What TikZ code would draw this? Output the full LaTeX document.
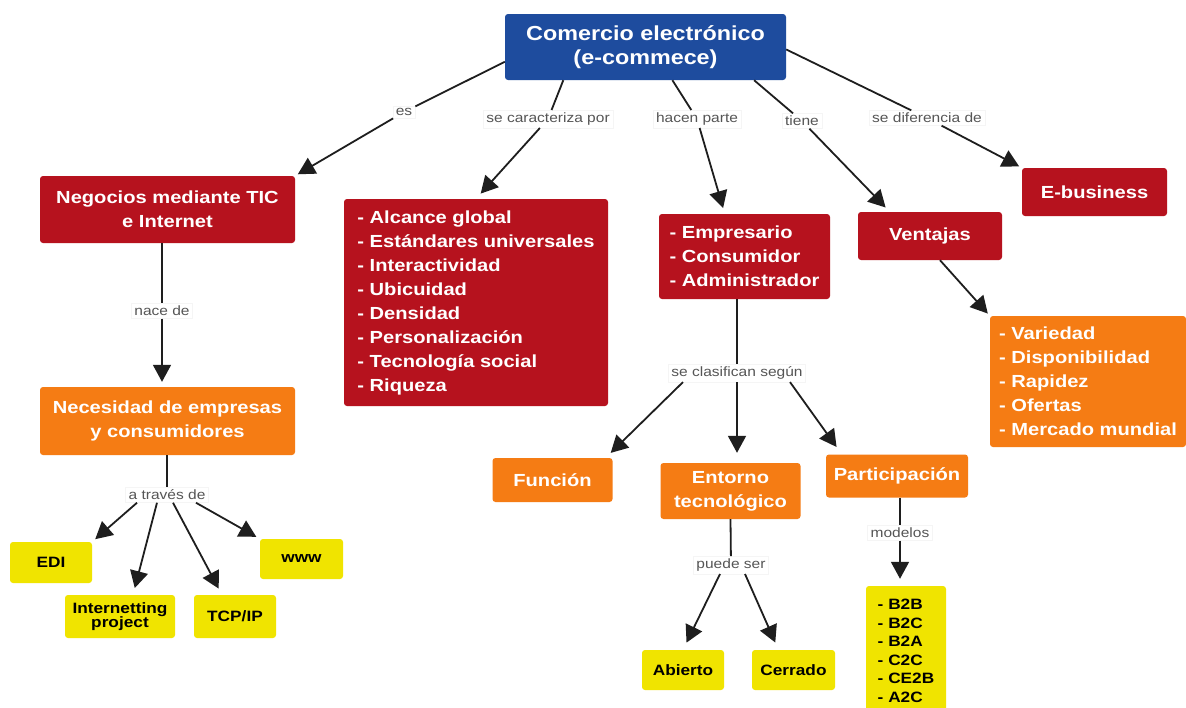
\documentclass[tikz,border=0pt]{standalone}
\usepackage{fontspec}
\setmainfont[FakeStretch=1.15]{Liberation Sans}
\usetikzlibrary{arrows.meta,calc}
\definecolor{cblue}{RGB}{30,76,158}
\definecolor{cred}{RGB}{182,18,30}
\definecolor{corange}{RGB}{245,124,20}
\definecolor{cyellow}{RGB}{240,228,0}
\definecolor{cline}{RGB}{30,30,30}
\definecolor{clabel}{RGB}{85,85,85}
\begin{document}
\begin{tikzpicture}[x=1pt,y=-1pt,
 box/.style={rounded corners=3pt, inner sep=0pt, text=white, align=center,
   font=\bfseries\fontsize{17.5}{24}\selectfont},
 rootbox/.style={box, fill=cblue, font=\bfseries\fontsize{20.3}{24}\selectfont},
 redbox/.style={box, fill=cred},
 orbox/.style={box, fill=corange},
 yelbox/.style={box, fill=cyellow, text=black, font=\bfseries\fontsize{15}{14.5}\selectfont},
 lab/.style={fill=white, draw=black!4, text=clabel, font=\fontsize{13.5}{15}\selectfont, inner xsep=3pt, inner ysep=2.5pt},
 conn/.style={draw=cline, line width=1.8pt},
 arr/.style={conn, -{Triangle[length=17pt,width=18pt]}},
]
\fill[white, use as bounding box] (0,0) rectangle (1186,707);

% boxes
\node[rootbox, minimum width=281pt, minimum height=66pt] (root) at (645.5,47) {Comercio electrónico\\(e-commece)};
\node[redbox, minimum width=255pt, minimum height=67pt] (neg) at (167.5,209.5) {Negocios mediante TIC\\e Internet};
\node[redbox, align=left, minimum width=264pt, minimum height=207pt] (car) at (476,302.5) {- Alcance global\\- Estándares universales\\- Interactividad\\- Ubicuidad\\- Densidad\\- Personalización\\- Tecnología social\\- Riqueza};
\node[redbox, align=left, minimum width=171pt, minimum height=85pt] (emp) at (744.5,256.5) {- Empresario\\- Consumidor\\- Administrador};
\node[redbox, minimum width=144pt, minimum height=48pt] (ven) at (930,236) {Ventajas};
\node[redbox, minimum width=145pt, minimum height=48pt] (ebiz) at (1094.5,192) {E-business};
\node[orbox, align=left, minimum width=196pt, minimum height=131pt] (vlist) at (1088,381.5) {- Variedad\\- Disponibilidad\\- Rapidez\\- Ofertas\\- Mercado mundial};
\node[orbox, minimum width=255pt, minimum height=68pt] (nec) at (167.5,421) {Necesidad de empresas\\y consumidores};
\node[orbox, minimum width=120pt, minimum height=44pt] (fun) at (552.5,480) {Función};
\node[orbox, minimum width=140pt, minimum height=56pt] (ent) at (730.5,491) {Entorno\\tecnológico};
\node[orbox, minimum width=142pt, minimum height=43pt] (part) at (897,476) {Participación};
\node[yelbox, minimum width=82pt, minimum height=41pt] (edi) at (51,562.5) {EDI};
\node[yelbox, minimum width=110pt, minimum height=43pt] (inet) at (120,616.5) {Internetting\\project};
\node[yelbox, minimum width=82pt, minimum height=43pt] (tcp) at (235,616.5) {TCP/IP};
\node[yelbox, minimum width=83pt, minimum height=40pt] (www) at (301.5,559) {www};
\node[yelbox, minimum width=82pt, minimum height=40pt] (abi) at (683,670) {Abierto};
\node[yelbox, minimum width=83pt, minimum height=40pt] (cer) at (793.5,670) {Cerrado};
\node[yelbox, align=left, minimum width=80pt, minimum height=130pt, font=\bfseries\fontsize{15}{18.5}\selectfont] (b2b) at (906,651) {- B2B\\- B2C\\- B2A\\- C2C\\- CE2B\\- A2C};

% labels
\node[lab] (les) at (404,112) {es};
\node[lab] (lcar) at (548,119) {se caracteriza por};
\node[lab] (lhac) at (697,119) {hacen parte};
\node[lab] (ltie) at (802,121) {tiene};
\node[lab] (ldif) at (927,118) {se diferencia de};
\node[lab] (lnac) at (162,311) {nace de};
\node[lab] (lat) at (167,495) {a través de};
\node[lab] (lcls) at (737,373) {se clasifican según};
\node[lab] (lpue) at (731,565) {puede ser};
\node[lab] (lmod) at (900,533) {modelos};

% connectors
\draw[conn] (root.186) -- (les);
\draw[arr, shorten >=3pt] (les) -- (neg.north east);
\draw[conn] (root.202) -- (lcar);
\draw[arr, shorten >=7pt] (lcar) -- (car.north);
\draw[conn] (root.309) -- (lhac);
\draw[arr, shorten >=6pt] (lhac) -- ($(emp.north west)+(66,0)$);
\draw[conn] (root.343) -- (ltie);
\draw[arr, shorten >=6pt] (ltie) -- ($(ven.north west)+(32,0)$);
\draw[conn] (root.359) -- (ldif);
\draw[arr, shorten >=3pt] (ldif) -- (ebiz.north west);
\draw[arr, shorten >=3pt] ($(ven.south)+(10,0)$) -- (vlist.north west);

\draw[conn] (neg.south -| lnac) -- (lnac);
\draw[arr, shorten >=5pt] (lnac) -- (nec.north -| lnac);

\draw[conn] (nec.south -| lat) -- (lat);
\draw[arr, shorten >=4pt] ($(lat.south)+(-30,0)$) -- (edi.north east);
\draw[arr, shorten >=7pt] ($(lat.south)+(-10,0)$) -- ($(inet.north)+(13,0)$);
\draw[arr, shorten >=7pt] ($(lat.south)+(6,0)$) -- ($(tcp.north)+(-13,0)$);
\draw[arr, shorten >=4pt] ($(lat.south)+(29,0)$) -- (www.north west);

\draw[conn] (emp.south -| lcls) -- (lcls);
\draw[arr, shorten >=7pt] ($(lcls.south)+(-54,0)$) -- ($(fun.north east)+(-7,0)$);
\draw[arr, shorten >=10pt] (lcls) -- (ent.north -| lcls);
\draw[arr, shorten >=9pt] ($(lcls.south)+(53,0)$) -- ($(part.north west)+(16,0)$);

\draw[conn] (ent.south) -- (lpue);
\draw[arr, shorten >=8pt] ($(lpue.south)+(-11,0)$) -- (abi.north);
\draw[arr, shorten >=8pt] ($(lpue.south)+(14,0)$) -- ($(cer.north)+(-15,0)$);

\draw[conn] (part.south -| lmod) -- (lmod);
\draw[arr, shorten >=7pt] (lmod) -- (b2b.north -| lmod);
\end{tikzpicture}
\end{document}
